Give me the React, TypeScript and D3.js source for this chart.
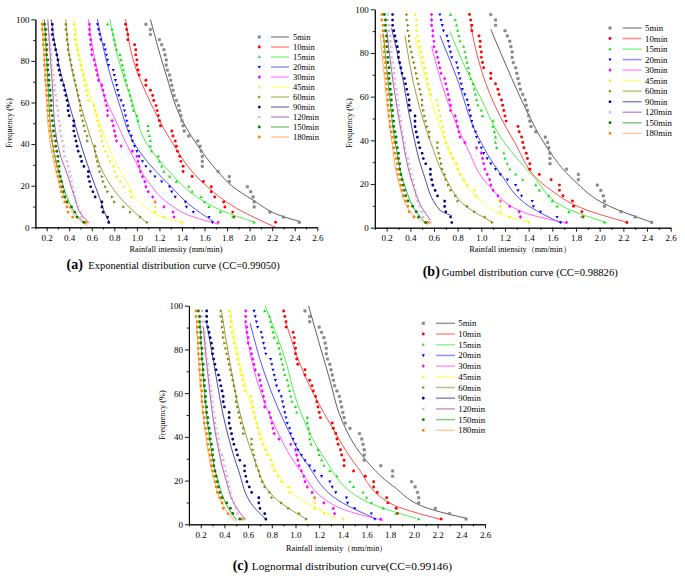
import React, { useEffect, useRef } from "react";
import * as d3 from "d3";

const SERIES = ["5min", "10min", "15min", "20min", "30min", "45min", "60min", "90min", "120min", "150min", "180min"];

// empirical frequency (%) of each ranked observation, top to bottom
const FREQ = [97.6, 95.1, 92.7, 90.2, 87.8, 85.4, 82.9, 80.5, 78.0, 75.6, 73.2, 70.7, 68.3, 65.9, 63.4, 61.0, 58.5, 56.1, 53.7, 51.2,
  48.8, 46.3, 43.9, 41.5, 39.0, 36.6, 34.1, 31.7, 29.3, 26.8, 24.4, 22.0, 19.5, 17.1, 14.6, 12.2, 9.8, 7.3, 4.9, 2.4];

// rainfall intensity (mm/min) per duration, matching FREQ order
const I5 = [1.08, 1.12, 1.12, 1.20, 1.22, 1.24, 1.25, 1.26, 1.26, 1.27, 1.29, 1.30, 1.31, 1.32, 1.33, 1.35, 1.37, 1.38, 1.39, 1.40,
  1.41, 1.42, 1.46, 1.54, 1.56, 1.57, 1.58, 1.58, 1.58, 1.72, 1.82, 1.82, 1.98, 2.01, 2.03, 2.04, 2.04, 2.18, 2.30, 2.44];
const I10 = [0.90, 0.91, 0.92, 0.92, 0.98, 0.99, 0.99, 1.00, 1.00, 1.01, 1.02, 1.08, 1.08, 1.12, 1.14, 1.15, 1.17, 1.18, 1.19, 1.20,
  1.21, 1.31, 1.32, 1.34, 1.35, 1.36, 1.38, 1.39, 1.41, 1.41, 1.49, 1.59, 1.66, 1.66, 1.69, 1.77, 1.78, 1.85, 1.86, 2.23];
const I15 = [0.74, 0.78, 0.79, 0.80, 0.81, 0.82, 0.85, 0.86, 0.87, 0.88, 0.89, 0.90, 0.91, 0.93, 0.94, 0.95, 0.96, 0.97, 1.00, 1.01,
  1.10, 1.10, 1.11, 1.12, 1.12, 1.13, 1.19, 1.20, 1.22, 1.24, 1.29, 1.35, 1.46, 1.49, 1.57, 1.60, 1.64, 1.74, 1.85, 2.04];
const I20 = [0.65, 0.66, 0.67, 0.68, 0.71, 0.72, 0.73, 0.74, 0.75, 0.79, 0.80, 0.81, 0.82, 0.83, 0.84, 0.86, 0.88, 0.89, 0.90, 0.91,
  0.92, 0.93, 0.95, 0.96, 0.98, 1.00, 1.02, 1.05, 1.08, 1.12, 1.16, 1.22, 1.29, 1.31, 1.34, 1.43, 1.44, 1.50, 1.64, 1.67];
const I30 = [0.58, 0.58, 0.58, 0.59, 0.59, 0.60, 0.60, 0.62, 0.63, 0.64, 0.65, 0.66, 0.69, 0.70, 0.71, 0.72, 0.73, 0.74, 0.74, 0.78,
  0.79, 0.80, 0.81, 0.82, 0.86, 0.96, 1.00, 1.01, 1.02, 1.03, 1.05, 1.07, 1.08, 1.10, 1.14, 1.16, 1.24, 1.32, 1.33, 1.72];
const I45 = [0.44, 0.45, 0.45, 0.45, 0.46, 0.47, 0.48, 0.49, 0.50, 0.51, 0.52, 0.53, 0.54, 0.55, 0.56, 0.57, 0.62, 0.63, 0.64, 0.65,
  0.66, 0.67, 0.68, 0.69, 0.70, 0.72, 0.74, 0.76, 0.79, 0.80, 0.82, 0.85, 0.88, 0.94, 0.95, 1.15, 1.16, 1.16, 1.24, 1.40];
const I60 = [0.37, 0.37, 0.38, 0.38, 0.39, 0.39, 0.40, 0.41, 0.42, 0.43, 0.44, 0.45, 0.46, 0.47, 0.48, 0.49, 0.50, 0.50, 0.51, 0.52,
  0.53, 0.54, 0.56, 0.56, 0.63, 0.63, 0.64, 0.65, 0.66, 0.67, 0.69, 0.70, 0.72, 0.74, 0.78, 0.80, 0.88, 0.94, 1.03, 1.09];
const I90 = [0.25, 0.25, 0.25, 0.26, 0.27, 0.28, 0.29, 0.30, 0.30, 0.31, 0.32, 0.33, 0.35, 0.36, 0.37, 0.38, 0.39, 0.39, 0.40, 0.44,
  0.44, 0.44, 0.45, 0.46, 0.47, 0.48, 0.50, 0.51, 0.53, 0.57, 0.57, 0.58, 0.59, 0.61, 0.63, 0.69, 0.69, 0.70, 0.74, 0.75];
const I120 = [0.21, 0.21, 0.22, 0.22, 0.23, 0.23, 0.24, 0.24, 0.24, 0.25, 0.26, 0.26, 0.27, 0.27, 0.28, 0.29, 0.29, 0.30, 0.30, 0.31,
  0.32, 0.32, 0.33, 0.34, 0.35, 0.35, 0.36, 0.38, 0.39, 0.40, 0.41, 0.42, 0.43, 0.44, 0.45, 0.46, 0.48, 0.50, 0.51, 0.57];
const I150 = [0.18, 0.19, 0.19, 0.19, 0.20, 0.20, 0.20, 0.21, 0.21, 0.21, 0.22, 0.22, 0.22, 0.23, 0.23, 0.24, 0.24, 0.24, 0.25, 0.25,
  0.26, 0.26, 0.27, 0.28, 0.28, 0.29, 0.30, 0.30, 0.31, 0.31, 0.32, 0.33, 0.34, 0.35, 0.36, 0.38, 0.42, 0.45, 0.47, 0.53];
const I180 = [0.16, 0.16, 0.17, 0.17, 0.17, 0.18, 0.18, 0.18, 0.18, 0.19, 0.19, 0.19, 0.20, 0.20, 0.20, 0.21, 0.21, 0.21, 0.22, 0.22,
  0.23, 0.23, 0.24, 0.25, 0.26, 0.26, 0.27, 0.28, 0.29, 0.29, 0.30, 0.31, 0.32, 0.33, 0.34, 0.36, 0.38, 0.39, 0.43, 0.55];
const INTENSITY = [I5, I10, I15, I20, I30, I45, I60, I90, I120, I150, I180];

// fitted curves: [intensity, frequency]
const EXP_CURVES = [
  [[1.12, 100], [1.25, 75], [1.40, 51.6], [1.53, 40], [1.72, 26.7], [1.84, 20], [2.03, 13.1], [2.30, 5.1], [2.45, 2.7]],
  [[0.90, 100], [0.97, 80], [1.12, 60], [1.29, 42.8], [1.59, 21.2], [1.885, 9.1], [2.23, 0]],
  [[0.76, 100], [0.84, 80], [0.96, 60], [1.09, 40], [1.29, 26.7], [1.53, 14.7], [1.74, 8.3], [2.04, 2.5]],
  [[0.65, 100], [0.73, 80], [0.84, 60], [0.98, 40], [1.15, 28], [1.29, 20.3], [1.47, 10.7], [1.68, 2.7]],
  [[0.57, 100], [0.63, 80], [0.72, 62], [0.81, 51.6], [0.95, 35.6], [1.10, 22], [1.28, 11.5], [1.50, 5], [1.72, 1.5]],
  [[0.44, 100], [0.50, 80], [0.57, 66], [0.66, 51.6], [0.77, 36], [0.90, 22.7], [1.07, 9.9], [1.25, 4.5], [1.40, 2.5]],
  [[0.37, 100], [0.41, 80], [0.47, 65], [0.54, 51.6], [0.62, 38], [0.69, 27.5], [0.87, 13.1], [1.08, 2.5]],
  [[0.24, 100], [0.30, 80], [0.37, 65], [0.44, 51.6], [0.52, 37], [0.60, 24.3], [0.67, 14], [0.73, 5.1], [0.76, 2]],
  [[0.21, 100], [0.235, 80], [0.255, 65], [0.27, 50], [0.32, 35], [0.39, 24.3], [0.45, 14], [0.51, 5.9], [0.57, 2.5]],
  [[0.18, 100], [0.20, 80], [0.22, 60], [0.24, 45], [0.28, 32], [0.33, 22.7], [0.40, 12], [0.47, 5.5], [0.55, 1.5]],
  [[0.16, 100], [0.18, 80], [0.20, 60], [0.22, 45], [0.26, 32], [0.31, 22], [0.38, 12], [0.46, 5], [0.56, 0.5]],
];
const GUMBEL_CURVES = [
  [[1.08, 90.8], [1.22, 73], [1.38, 53.9], [1.55, 37.1], [1.78, 21.8], [2.06, 10.4], [2.45, 2.3]],
  [[0.91, 93], [0.96, 80], [1.07, 61.5], [1.27, 40.2], [1.55, 18.8], [1.89, 8.1], [2.24, 2.3]],
  [[0.735, 89.8], [0.85, 75], [0.99, 60], [1.16, 41.7], [1.44, 23.4], [1.72, 8.9], [2.06, 2.3]],
  [[0.65, 88], [0.79, 69], [0.96, 43], [1.16, 24.9], [1.41, 9.6], [1.665, 2.3]],
  [[0.58, 83], [0.71, 58.5], [0.876, 37.1], [1.073, 18.8], [1.38, 6.6], [1.72, 2.2]],
  [[0.44, 87.5], [0.538, 66], [0.65, 46], [0.79, 28], [0.99, 12.7], [1.20, 5.5], [1.40, 2.5]],
  [[0.355, 88], [0.454, 60], [0.566, 40], [0.707, 21.8], [0.876, 9.6], [1.10, 2.3]],
  [[0.242, 91.3], [0.327, 70.7], [0.411, 46.3], [0.51, 24.9], [0.65, 8.1], [0.75, 5.5]],
  [[0.20, 90.5], [0.256, 66], [0.327, 43], [0.41, 21.8], [0.51, 8.1], [0.57, 3.5]],
  [[0.172, 89], [0.214, 66], [0.27, 40], [0.355, 18.8], [0.44, 8.1], [0.53, 2]],
  [[0.144, 89], [0.186, 66], [0.242, 40], [0.313, 18.8], [0.41, 6.6], [0.55, 1.2]],
];
const LOGN_CURVES = [
  [[1.11, 100], [1.29, 66], [1.39, 47.7], [1.57, 30.9], [1.83, 17.2], [2.16, 6.6], [2.445, 2.7]],
  [[0.92, 92], [1.095, 66], [1.29, 46.2], [1.52, 26.4], [1.80, 9.6], [2.22, 2.3]],
  [[0.743, 100], [0.898, 78], [1.039, 52], [1.236, 30.9], [1.573, 11.1], [2.02, 2.7]],
  [[0.617, 92], [0.729, 70.6], [0.898, 47.7], [1.095, 27.9], [1.404, 9.6], [1.67, 2.7]],
  [[0.574, 92], [0.673, 66], [0.842, 43], [1.039, 24.8], [1.348, 8.1], [1.74, 1.7]],
  [[0.448, 98], [0.532, 73.6], [0.645, 50.8], [0.785, 30.9], [1.01, 12.7], [1.348, 2.7]],
  [[0.377, 97], [0.448, 73.6], [0.532, 50.8], [0.645, 30.9], [0.813, 12.7], [1.095, 2.3]],
  [[0.25, 92], [0.32, 70.6], [0.405, 46.2], [0.518, 24.8], [0.645, 8.1], [0.743, 2.7]],
  [[0.222, 90], [0.265, 66], [0.32, 43], [0.405, 21.8], [0.504, 7.3], [0.574, 2.3]],
  [[0.194, 92], [0.222, 66], [0.265, 43], [0.335, 21.8], [0.434, 7.3], [0.504, 1.7]],
  [[0.166, 92], [0.194, 66], [0.237, 43], [0.307, 21.8], [0.405, 7.3], [0.49, 1.2]],
];

const X_TICKS = [0.2, 0.4, 0.6, 0.8, 1.0, 1.2, 1.4, 1.6, 1.8, 2.0, 2.2, 2.4, 2.6];
const X_MINOR = [0.1, 0.3, 0.5, 0.7, 0.9, 1.1, 1.3, 1.5, 1.7, 1.9, 2.1, 2.3, 2.5];
const Y_TICKS = [0, 20, 40, 60, 80, 100];
const Y_MINOR = [10, 30, 50, 70, 90];

// styles
const FONT = "Liberation Serif, Times New Roman, serif";
const POINT_COLORS = ["#8a8a8a", "#ff0000", "#11e011", "#0000ff", "#ff00ff", "#f2f200", "#808000", "#000080", "#c58ac5", "#008000", "#ff8000"];
const LINE_COLORS = ["#444444", "#ff3030", "#33ee33", "#3535ff", "#ff44ff", "#ffff22", "#8a8a2a", "#2a2a9a", "#a040a0", "#2a9a2a", "#ffa050"];
const SHAPES = ["square", "circle", "up", "down", "diamond", "left", "right", "hex", "times", "circle", "square"];

function markerPath(shape: string, s: number): string {
  switch (shape) {
    case "square": return `M${-s},${-s}H${s}V${s}H${-s}Z`;
    case "circle": return d3.symbol(d3.symbolCircle, Math.PI * s * s * 1.1)() as string;
    case "up": return `M0,${-1.25 * s}L${1.15 * s},${0.8 * s}L${-1.15 * s},${0.8 * s}Z`;
    case "down": return `M0,${1.25 * s}L${1.15 * s},${-0.8 * s}L${-1.15 * s},${-0.8 * s}Z`;
    case "diamond": return `M0,${-1.35 * s}L${1.15 * s},0L0,${1.35 * s}L${-1.15 * s},0Z`;
    case "left": return `M${-1.25 * s},0L${0.8 * s},${-1.15 * s}L${0.8 * s},${1.15 * s}Z`;
    case "right": return `M${1.25 * s},0L${-0.8 * s},${-1.15 * s}L${-0.8 * s},${1.15 * s}Z`;
    case "hex": {
      const p = d3.range(6).map((k) => {
        const a = (Math.PI / 3) * k;
        return `${(1.1 * s * Math.cos(a)).toFixed(2)},${(1.1 * s * Math.sin(a)).toFixed(2)}`;
      });
      return `M${p.join("L")}Z`;
    }
    case "times": return `M${-s},${-s}L${s},${s}M${-s},${s}L${s},${-s}`;
    default: return "";
  }
}

function Marker({ i, x, y }: { i: number; x: number; y: number }) {
  const shape = SHAPES[i];
  const s = shape === "square" ? 1.25 : 1.4;
  if (shape === "times") {
    return <path d={markerPath(shape, 1.3)} transform={`translate(${x},${y})`} stroke={POINT_COLORS[i]} strokeWidth={0.8} fill="none" />;
  }
  return <path d={markerPath(shape, s)} transform={`translate(${x},${y})`} fill={POINT_COLORS[i]} stroke={i === 0 ? "#777" : "none"} strokeWidth={0.4} />;
}

const PANELS = [
  {
    key: "a", curves: EXP_CURVES, x0: 35.4, x1: 317.3, yb: 227.3, yt: 19.3, tickPad: 3,
    yTitleX: 9.5, yTitleY: 123, xTitle: "Rainfall intensity (mm/min)", xTitleX: 176, xTitleY: 252,
    legend: { mx: 259.3, lx0: 271, lx1: 289, tx: 293, y0: 37, dy: 10, fs: 8.5 },
    cap: { label: "(a)", text: "Exponential distribution curve (CC=0.99050)", x: 66.5, tx: 88.3, y: 269, fs: 10.5 },
  },
  {
    key: "b", curves: GUMBEL_CURVES, x0: 374.8, x1: 670.7, yb: 227.7, yt: 9.3, tickPad: 3,
    yTitleX: 349.5, yTitleY: 123, xTitle: "Rainfall intensity（mm/min）", xTitleX: 520, xTitleY: 252,
    legend: { mx: 610, lx0: 622.7, lx1: 641.7, tx: 645, y0: 28, dy: 10.53, fs: 8.8 },
    cap: { label: "(b)", text: "Gumbel distribution curve (CC=0.98826)", x: 422.7, tx: 441.7, y: 275.7, fs: 10.6 },
  },
  {
    key: "c", curves: LOGN_CURVES, x0: 188.9, x1: 485, yb: 524.3, yt: 305.7, tickPad: 3.8,
    yTitleX: 162, yTitleY: 415, xTitle: "Rainfall intensity（mm/min）", xTitleX: 336.7, xTitleY: 550.5,
    legend: { mx: 423.3, lx0: 436, lx1: 455, tx: 458.3, y0: 323.3, dy: 10.7, fs: 8.8 },
    cap: { label: "(c)", text: "Lognormal distribution curve(CC=0.99146)", x: 232.7, tx: 251.7, y: 570, fs: 11.4 },
  },
];

type PanelCfg = typeof PANELS[number];

function Panel({ cfg }: { cfg: PanelCfg }) {
  const gx = useRef<SVGGElement>(null);
  const gy = useRef<SVGGElement>(null);
  const x = d3.scaleLinear().domain([0.1, 2.6]).range([cfg.x0, cfg.x1]);
  const y = d3.scaleLinear().domain([0, 100]).range([cfg.yb, cfg.yt]);

  useEffect(() => {
    const ax = d3.select(gx.current!);
    ax.selectAll("*").remove();
    ax.append("g").call(d3.axisBottom(x).tickValues(X_MINOR).tickSize(2.2).tickSizeOuter(0).tickFormat(() => ""));
    ax.append("g").call(d3.axisBottom(x).tickValues(X_TICKS).tickSize(4).tickSizeOuter(0).tickPadding(cfg.tickPad).tickFormat(d3.format(".1f")));
    const ay = d3.select(gy.current!);
    ay.selectAll("*").remove();
    ay.append("g").call(d3.axisLeft(y).tickValues(Y_MINOR).tickSize(2.2).tickSizeOuter(0).tickFormat(() => ""));
    ay.append("g").call(d3.axisLeft(y).tickValues(Y_TICKS).tickSize(4).tickSizeOuter(0).tickPadding(2).tickFormat(d3.format("d")));
    for (const g of [ax, ay]) {
      g.selectAll("g").attr("font-family", FONT).attr("font-size", 9);
      g.selectAll("text").attr("fill", "#000");
      g.selectAll("line,path").attr("stroke", "#000").attr("stroke-width", 0.9);
    }
  });

  const line = d3.line<number[]>().x((d) => x(d[0])).y((d) => y(d[1])).curve(d3.curveMonotoneY);

  return (
    <g>
      {cfg.curves.map((c, i) => (
        <path key={"c" + i} d={line(c) as string} fill="none" stroke={LINE_COLORS[i]} strokeWidth={0.85} />
      ))}
      {INTENSITY.map((arr, i) => (
        <g key={"s" + i}>
          {arr.map((v, k) => (
            <Marker key={k} i={i} x={x(v)} y={y(FREQ[k])} />
          ))}
        </g>
      ))}
      <g ref={gx} transform={`translate(0,${cfg.yb})`} />
      <g ref={gy} transform={`translate(${cfg.x0},0)`} />
      <text x={cfg.xTitleX} y={cfg.xTitleY} textAnchor="middle" fontFamily={FONT} fontSize={8.3}>{cfg.xTitle}</text>
      <text transform={`translate(${cfg.yTitleX},${cfg.yTitleY}) rotate(-90)`} textAnchor="middle" dy="0.35em" fontFamily={FONT} fontSize={8.3}>Frequency (%)</text>
      {SERIES.map((name, i) => {
        const ly = cfg.legend.y0 + i * cfg.legend.dy;
        return (
          <g key={"l" + i}>
            <Marker i={i} x={cfg.legend.mx} y={ly} />
            <line x1={cfg.legend.lx0} x2={cfg.legend.lx1} y1={ly} y2={ly} stroke={LINE_COLORS[i]} strokeWidth={1.5} opacity={0.55} />
            <text x={cfg.legend.tx} y={ly} dy="0.35em" fontFamily={FONT} fontSize={cfg.legend.fs}>{name}</text>
          </g>
        );
      })}
      <text x={cfg.cap.x} y={cfg.cap.y} fontFamily={FONT} fontSize={14} fontWeight="bold">{cfg.cap.label}</text>
      <text x={cfg.cap.tx} y={cfg.cap.y} fontFamily={FONT} fontSize={cfg.cap.fs}>{cfg.cap.text}</text>
    </g>
  );
}

export default function App() {
  return (
    <svg width={685} height={576} style={{ position: "absolute", left: 0, top: 0, background: "#fff" }}>
      <rect width={685} height={576} fill="#fff" />
      {PANELS.map((p) => (
        <Panel key={p.key} cfg={p} />
      ))}
    </svg>
  );
}
